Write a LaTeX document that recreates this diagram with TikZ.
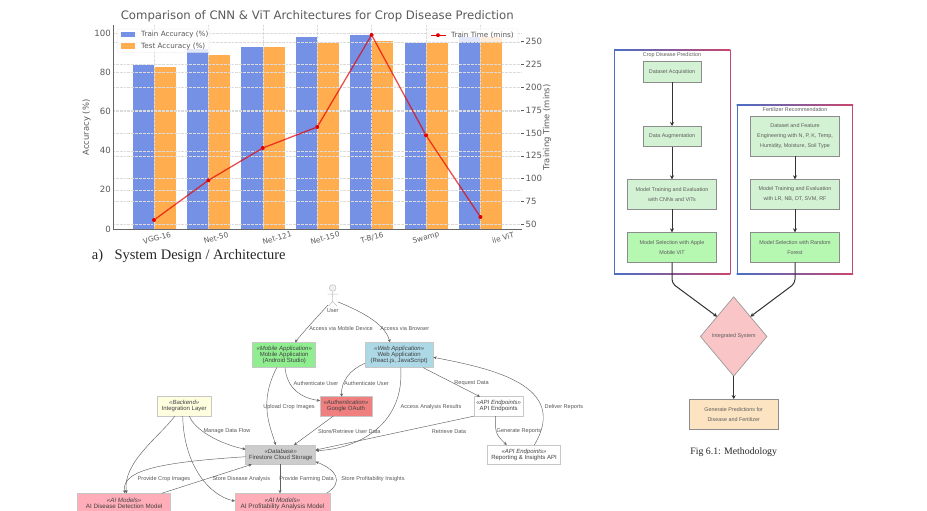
\documentclass[tikz,border=0pt]{standalone}
\usepackage{fontspec}
\setmainfont{Liberation Sans}
\newfontfamily\capfont{Liberation Serif}
\newfontfamily\chartfont{DejaVu Sans}
\usetikzlibrary{positioning, shapes.geometric, arrows.meta}
\definecolor{trainblue}{HTML}{7491E6}
\definecolor{testorange}{HTML}{FFAD4F}
\definecolor{charttext}{HTML}{5A5A5A}
\definecolor{boxblue}{HTML}{4A6FC4}
\definecolor{boxred}{HTML}{C9466E}
\definecolor{flowgreen}{HTML}{D3F2D3}
\definecolor{pickgreen}{HTML}{B6F7B2}
\definecolor{flowtext}{HTML}{5C5C5C}
\definecolor{diamondpink}{HTML}{FAC5C6}
\tikzset{
	charttick/.style ={
		font={\chartfont\fontsize{8.6}{9}\selectfont},
		text=charttext,
		inner sep=0pt,
	},
	chartaxis/.style ={
		font={\chartfont\fontsize{8.4}{9}\selectfont},
		text=charttext,
		inner sep=0pt,
	},
	catlabel/.style ={
		font={\chartfont\fontsize{7.4}{8}\selectfont},
		text=charttext,
		inner sep=0pt,
		rotate=15,
	},
	legendtext/.style ={
		font={\chartfont\fontsize{7.2}{8}\selectfont},
		text=charttext,
		inner sep=0pt,
		anchor=west,
	},
	gridline/.style ={
		black!14,
		densely dotted,
		line width=0.35pt,
	},
	umlbox/.style ={
		draw=black!22,
		line width=0.5pt,
		align=center,
		inner sep=0pt,
		outer sep=0pt,
		text=black!75,
		font={\fontsize{6}{6}\selectfont},
	},
	umllabel/.style ={
		inner sep=0pt,
		text=black!65,
		font={\fontsize{5.6}{6}\selectfont},
	},
	umledge/.style ={
		draw=black!62,
		line width=0.45pt,
		-{Stealth[length=3.2pt,width=3pt]},
	},
	flowbox/.style ={
		draw=black!45,
		line width=0.7pt,
		fill=flowgreen,
		align=center,
		inner sep=0pt,
		outer sep=0pt,
		text=flowtext,
		font={\fontsize{5.4}{10}\selectfont},
	},
	flowedge/.style ={
		draw=black!80,
		line width=1pt,
		-{Stealth[length=4pt,width=4pt]},
	},
	boxtitle/.style ={
		inner sep=0pt,
		text=flowtext,
		font={\fontsize{5.4}{6}\selectfont},
	},
}
\begin{document}
\begin{tikzpicture}[x=1pt,y=-1pt]
	\useasboundingbox (0,0) rectangle (927,511);
	\fill[white] (0,0) rectangle (927,511);

	% bar chart
	\foreach \i/\trainacc/\testacc in {0/84/83,1/92/89,2/93/93,3/98/95,4/99/96,5/95/95,6/98/98}{
		\pgfmathsetmacro{\xpos}{154+54.4*\i}
		\fill[trainblue] (\xpos-21.4,229) rectangle (\xpos,229-1.957*\trainacc);
		\fill[testorange] (\xpos,229) rectangle (\xpos+21.7,229-1.957*\testacc);
		\draw[gridline] (\xpos,25) -- (\xpos,229);
	}
	\foreach \v in {0,20,40,60,80,100}{
		\draw[gridline] (113,229-1.957*\v) -- (521,229-1.957*\v);
		\node[charttick,anchor=east] (acc\v) at (111,229-1.957*\v) {\v};
	}
	\foreach \t in {50,75,100,125,150,175,200,225,250}{
		\draw[gridline] (113,224.3-0.913*\t+45.65) -- (521,224.3-0.913*\t+45.65);
		\draw[charttext,line width=0.5pt] (521,224.3-0.913*\t+45.65) -- (524,224.3-0.913*\t+45.65);
		\node[charttick,anchor=west] (time\t) at (525.5,224.3-0.913*\t+45.65) {\t};
	}
	\draw[black!60,line width=0.9pt] (113.3,25) -- (113.3,229) -- (522,229);
	\node[chartaxis,rotate=90] (accaxis) at (86.5,127.5) {Accuracy (\%)};
	\node[chartaxis,rotate=90] (timeaxis) at (547,127.5) {Training Time (mins)};
	\node[inner sep=0pt,text=charttext,font={\chartfont\fontsize{11.7}{12}\selectfont}] (charttitle) at (317.3,16.5) {Comparison of CNN \& ViT Architectures for Crop Disease Prediction};
	\foreach \i/\tx/\ty/\tname in {0/157/238/{VGG-16},1/216/238/{Net-50},2/277/238/{Net-121},3/325/238/{Net-150},4/372/238/{T-B/16},5/426/238/{Swamp},6/503/238/{ile ViT}}{
		\node[catlabel] (cat\i) at (\tx,\ty) {\tname};
	}

	% train time line
	\foreach \i/\tx/\ty in {0/154/220,1/208.4/180.3,2/262.8/148,3/317.2/127,4/371.6/35,5/426/135.3,6/480.4/217}{
		\node[circle,fill=red!90!black,inner sep=0pt,minimum size=4pt,outer sep=0pt] (pt\i) at (\tx,\ty) {};
	}
	\draw[red!90!black,opacity=0.7,line width=1.3pt] (pt0) -- (pt1) -- (pt2) -- (pt3) -- (pt4) -- (pt5) -- (pt6);

	% legends
	\fill[white,opacity=0.8,draw=black!12,line width=0.3pt,rounded corners=1pt] (117.7,29) rectangle (210,52.7);
	\fill[trainblue] (120.5,32.2) rectangle (135,37.5);
	\fill[testorange] (120.5,43.5) rectangle (135,48.8);
	\node[legendtext] (legtrain) at (141,35) {Train Accuracy (\%)};
	\node[legendtext] (legtest) at (141,46.2) {Test Accuracy (\%)};
	\fill[white,opacity=0.8,draw=black!12,line width=0.3pt,rounded corners=1pt] (428,29) rectangle (518,42);
	\node[circle,fill=red!90!black,inner sep=0pt,minimum size=4pt] (legpt) at (438,35.2) {};
	\draw[red!90!black,line width=0.8pt] (430.5,35.2) -- (446,35.2);
	\node[legendtext] (legtime) at (451,35.2) {Train Time (mins)};

	\node[inner sep=0pt,anchor=west,text=black!85,font={\capfont\fontsize{14.5}{15}\selectfont}] (capa) at (91.7,256) {a)};
	\node[inner sep=0pt,anchor=west,text=black!85,font={\capfont\fontsize{14.5}{15}\selectfont}] (capsys) at (114.3,256) {System Design / Architecture};

	% uml actor
	\draw[black!25,fill=black!6,line width=0.5pt] (332.7,288) circle (3.3);
	\draw[black!25,line width=0.5pt] (332.7,291.3) -- (332.7,301.5) (327.5,294) -- (338,294) (332.7,301.5) -- (328.5,306) (332.7,301.5) -- (337,306);
	\node[umllabel] (user) at (332.7,311) {User};
	\coordinate (userl) at (328,305);
	\coordinate (userr) at (338,302);

	% uml boxes
	\node[umlbox,fill={rgb,255:red,144;green,238;blue,144},minimum width=63pt,minimum height=25.4pt] (mobile) at (284.2,355) {\textit{«Mobile Application»}\\Mobile Application\\(Android Studio)};
	\node[umlbox,fill={rgb,255:red,173;green,216;blue,230},minimum width=68.3pt,minimum height=25.4pt] (web) at (399.2,355) {\textit{«Web Application»}\\Web Application\\(React.js, JavaScript)};
	\node[umlbox,fill={rgb,255:red,240;green,128;blue,128},minimum width=52pt,minimum height=19.4pt] (oauth) at (346,406.4) {\textit{«Authentication»}\\Google OAuth};
	\node[umlbox,fill=white,minimum width=49.3pt,minimum height=19.4pt] (api) at (498.7,406.4) {\textit{«API Endpoints»}\\API Endpoints};
	\node[umlbox,fill={rgb,255:red,255;green,255;blue,224},minimum width=53.7pt,minimum height=19.6pt] (backend) at (184.2,406.2) {\textit{«Backend»}\\Integration Layer};
	\node[umlbox,fill=black!20,minimum width=70pt,minimum height=19.4pt] (firestore) at (280.7,454.7) {\textit{«Database»}\\Firestore Cloud Storage};
	\node[umlbox,fill=white,minimum width=72.6pt,minimum height=19.4pt] (reports) at (524,454.7) {\textit{«API Endpoints»}\\Reporting \& Insights API};
	\node[umlbox,fill={rgb,255:red,255;green,174;blue,185},minimum width=93pt,minimum height=26pt,anchor=north,font={\fontsize{6.2}{6}\selectfont}] (aidisease) at (124.2,493.3) {\textit{«AI Models»}\\AI Disease Detection Model\\\mbox{}};
	\node[umlbox,fill={rgb,255:red,255;green,174;blue,185},minimum width=95pt,minimum height=26pt,anchor=north,font={\fontsize{6.4}{6}\selectfont}] (aiprofit) at (282.5,493.3) {\textit{«AI Models»}\\AI Profitability Analysis Model\\\mbox{}};

	% uml connectors
	\draw[umledge] (userl) .. controls +(-10,11) and +(9,-11) .. ([xshift=10.8pt]mobile.north);
	\draw[umledge] (userr) .. controls +(25,10) and +(-5,-18) .. ([xshift=-9.2pt]web.north);
	\draw[umledge] ([xshift=0.8pt]mobile.south) .. controls +(2,20) and +(-20,-3) .. ([yshift=5.7pt]oauth.west);
	\draw[umledge] ([yshift=4.4pt]web.south west) .. controls +(-15,6) and +(-1,-15) .. ([xshift=-4.3pt]oauth.north);
	\draw[umledge] ([xshift=-7.5pt]mobile.south) .. controls +(-18,35) and +(-6,-20) .. ([xshift=-5pt]firestore.north);
	\draw[umledge] ([xshift=-12.7pt]oauth.south) -- ([xshift=13.3pt]firestore.north);
	\draw[umledge] ([xshift=1.5pt]web.south) .. controls +(4,55) and +(45,-2) .. ([yshift=4pt]firestore.east);
	\draw[umledge] ([xshift=24pt]web.south) -- ([xshift=-18.7pt]api.north);
	\draw[umledge] (api.south west) -- ([yshift=4.7pt]firestore.east);
	\draw[umledge] ([xshift=-3pt]api.south) .. controls +(-2,18) and +(-8,-8) .. ([xshift=-17.3pt]reports.north);
	\draw[umledge] ([xshift=10.3pt]reports.north) .. controls +(36,-60) and +(57,11) .. ([yshift=-2.3pt]web.east);
	\draw[umledge] ([xshift=5.1pt]backend.south) .. controls +(5,14) and +(-25,-5) .. ([yshift=5.4pt]firestore.west);
	\draw[umledge] ([xshift=-9.2pt]backend.south) .. controls +(-15,20) and +(-5,-30) .. ([xshift=2.5pt]aidisease.north);
	\draw[umledge] ([xshift=-1.5pt]backend.south) .. controls +(1,50) and +(-25,-5) .. ([yshift=5.3pt]aiprofit.west);
	\draw[umledge] ([yshift=-2pt]firestore.west) .. controls +(-75,5) and +(-5,-25) .. ([xshift=0.8pt]aidisease.north);
	\draw[umledge] ([xshift=37.5pt]aidisease.north) -- ([xshift=-29pt]firestore.south);
	\draw[umledge] ([xshift=-0.7pt]firestore.south) -- ([xshift=-2.5pt]aiprofit.north);
	\draw[umledge] ([xshift=44.2pt]aiprofit.north) .. controls +(18,-12) and +(20,8) .. ([yshift=2.7pt]firestore.south east);

	% uml connector labels
	\node[umllabel] (lblmobile) at (341,328.7) {Access via Mobile Device};
	\node[umllabel] (lblweb) at (404.7,328.7) {Access via Browser};
	\node[umllabel] (lblauthm) at (316,383) {Authenticate User};
	\node[umllabel] (lblauthw) at (366.5,383) {Authenticate User};
	\node[umllabel] (lblrequest) at (471.5,383) {Request Data};
	\node[umllabel] (lblupload) at (289,407) {Upload Crop Images};
	\node[umllabel] (lblaccess) at (431,407) {Access Analysis Results};
	\node[umllabel] (lbldeliver) at (564,407) {Deliver Reports};
	\node[umllabel] (lblmanage) at (227,431) {Manage Data Flow};
	\node[umllabel] (lblstore) at (349.3,431) {Store/Retrieve User Data};
	\node[umllabel] (lblretrieve) at (449,431) {Retrieve Data};
	\node[umllabel] (lblgenerate) at (519,431) {Generate Reports};
	\node[umllabel] (lblcrop) at (164,479) {Provide Crop Images};
	\node[umllabel] (lbldisease) at (241.3,479) {Store Disease Analysis};
	\node[umllabel] (lblfarming) at (306.5,479) {Provide Farming Data};
	\node[umllabel] (lblinsights) at (373,479) {Store Profitability Insights};

	% methodology containers
	\draw[boxblue,line width=0.8pt] (614.3,50) -- (614.3,274.3);
	\draw[boxred,line width=0.8pt] (730,50) -- (730,274.3);
	\shade[left color=boxblue,right color=boxred] (614,49.6) rectangle (730.4,50.4);
	\shade[left color=boxblue,right color=boxred] (614,273.9) rectangle (730.4,274.7);
	\draw[boxblue,line width=0.8pt] (737,105) -- (737,274.3);
	\draw[boxred,line width=0.8pt] (852.7,105) -- (852.7,274.3);
	\shade[left color=boxblue,right color=boxred] (736.6,104.6) rectangle (853.1,105.4);
	\shade[left color=boxblue,right color=boxred] (736.6,273.9) rectangle (853.1,274.7);
	\node[boxtitle] (croptitle) at (672,55) {Crop Disease Prediction};
	\node[boxtitle] (fertitle) at (795,109.8) {Fertilizer Recommendation};

	% methodology flow
	\node[flowbox,minimum width=57.7pt,minimum height=20.6pt] (dataacq) at (672,72) {Dataset Acquisition};
	\node[flowbox,minimum width=57.7pt,minimum height=20.6pt,below=43.7pt of dataacq] (dataaug) {Data Augmentation};
	\node[flowbox,minimum width=89pt,minimum height=30pt,below=32.7pt of dataaug] (croptrain) {Model Training and Evaluation\\with CNNs and ViTs};
	\node[flowbox,fill=pickgreen,minimum width=89pt,minimum height=30pt,below=23pt of croptrain] (cropselect) {Model Selection with Apple\\Mobile ViT};
	\node[flowbox,minimum width=89pt,minimum height=39.6pt] (ferdata) at (795,136.5) {Dataset and Feature\\Engineering with N, P, K, Temp,\\Humidity, Moisture, Soil Type};
	\node[flowbox,minimum width=89pt,minimum height=30pt,below=23pt of ferdata] (fertrain) {Model Training and Evaluation\\with LR, NB, DT, SVM, RF};
	\node[flowbox,fill=pickgreen,minimum width=89pt,minimum height=30pt,below=23pt of fertrain] (ferselect) {Model Selection with Random\\Forest};
	\node[diamond,draw=black!40,line width=0.7pt,fill=diamondpink,inner sep=0pt,outer sep=0pt,minimum width=66.4pt,minimum height=79.3pt,text=flowtext,font={\fontsize{5.4}{6}\selectfont}] (integrated) at (733.7,336.5) {Integrated System};
	\node[flowbox,fill={rgb,255:red,252;green,228;blue,194},minimum width=88.4pt,minimum height=30.6pt,below=23pt of integrated] (generate) {Generate Predictions for\\Disease and Fertilizer};

	\draw[flowedge] (dataacq) -- (dataaug);
	\draw[flowedge] (dataaug) -- (croptrain);
	\draw[flowedge] (croptrain) -- (cropselect);
	\draw[flowedge] (ferdata) -- (fertrain);
	\draw[flowedge] (fertrain) -- (ferselect);
	\draw[flowedge,rounded corners=4pt] (cropselect.south) -- ++(0,21) -- (integrated.north west);
	\draw[flowedge,rounded corners=4pt] (ferselect.south) -- ++(0,21) -- (integrated.north east);
	\draw[flowedge] (integrated) -- (generate);

	\node[inner sep=0pt,text=black!85,font={\capfont\fontsize{9.8}{11}\selectfont}] (capfig) at (733.7,452.5) {Fig 6.1: Methodology};
\end{tikzpicture}
\end{document}
